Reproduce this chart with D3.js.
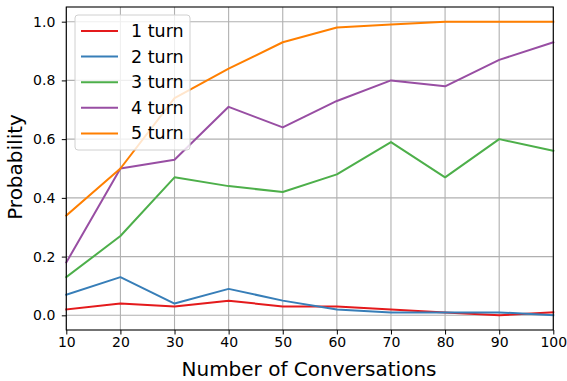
<!DOCTYPE html>
<html><head><meta charset="utf-8">
<script src="https://cdn.jsdelivr.net/npm/d3@7/dist/d3.min.js"></script>
<style>body{margin:0;background:#fff}svg{display:block;font-family:"DejaVu Sans",sans-serif}</style>
</head><body><svg id="c" width="567" height="381"></svg>
<script>
const xValues = [10,20,30,40,50,60,70,80,90,100];
const seriesNames = ["1 turn","2 turn","3 turn","4 turn","5 turn"];
const turn1 = [0.02,0.04,0.03,0.05,0.03,0.03,0.02,0.01,0.00,0.01];
const turn2 = [0.07,0.13,0.04,0.09,0.05,0.02,0.01,0.01,0.01,0.00];
const turn3 = [0.13,0.27,0.47,0.44,0.42,0.48,0.59,0.47,0.60,0.56];
const turn4 = [0.18,0.50,0.53,0.71,0.64,0.73,0.80,0.78,0.87,0.93];
const turn5 = [0.34,0.50,0.74,0.84,0.93,0.98,0.99,1.00,1.00,1.00];
const colors = ["#e41a1c","#377eb8","#4daf4a","#984ea3","#ff7f00"];
const xTicks = [10,20,30,40,50,60,70,80,90,100];
const yTicks = [0,0.2,0.4,0.6,0.8,1.0];
const allSeries = [turn1,turn2,turn3,turn4,turn5];

const svg = d3.select("#c");
const L=66.3,R=553.3,T=7,B=330;
const x = d3.scaleLinear().domain([10,100]).range([L,R]);
const y = d3.scaleLinear().domain([-0.05,1.05]).range([B,T]);

// grid
const g = svg.append("g");
g.selectAll(".gx").data(xTicks).join("line")
  .attr("x1",d=>x(d)).attr("x2",d=>x(d)).attr("y1",T).attr("y2",B)
  .attr("stroke","#b0b0b0").attr("stroke-width",1.1);
g.selectAll(".gy").data(yTicks).join("line")
  .attr("x1",L).attr("x2",R).attr("y1",d=>y(d)).attr("y2",d=>y(d))
  .attr("stroke","#b0b0b0").attr("stroke-width",1.1);

// lines
const line = d3.line().x((d,i)=>x(xValues[i])).y(d=>y(d));
const plot = svg.append("g");
allSeries.forEach((s,i)=>{
  plot.append("path").datum(s).attr("d",line).attr("fill","none")
    .attr("stroke",colors[i]).attr("stroke-width",2).attr("stroke-linejoin","round").attr("stroke-linecap","square");
});

// axes
const xa = svg.append("g").attr("transform",`translate(0,${B})`)
  .call(d3.axisBottom(x).tickValues(xTicks).tickSize(4.5).tickPadding(3).tickFormat(d3.format("d")));
const ya = svg.append("g").attr("transform",`translate(${L},0)`)
  .call(d3.axisLeft(y).tickValues(yTicks).tickSize(4.5).tickPadding(6.5).tickFormat(d3.format(".1f")));
[xa,ya].forEach(a=>{
  a.select(".domain").remove();
  a.selectAll("text").attr("font-size",14).attr("fill","#000").attr("font-family","DejaVu Sans");
  a.selectAll("line").attr("stroke","#000").attr("stroke-width",1);
});
svg.append("rect").attr("x",L).attr("y",T).attr("width",R-L).attr("height",B-T)
  .attr("fill","none").attr("stroke","#000").attr("stroke-width",1.1);

// labels
svg.append("text").attr("x",309).attr("y",375.5).attr("text-anchor","middle")
  .attr("font-size",20).text("Number of Conversations");
svg.append("text").attr("transform",`translate(22,167) rotate(-90)`).attr("text-anchor","middle")
  .attr("font-size",20).text("Probability");

// legend
const lg = svg.append("g");
lg.append("rect").attr("x",75).attr("y",15).attr("width",115).attr("height",135).attr("rx",3)
  .attr("fill","#fff").attr("fill-opacity",0.8).attr("stroke","#d0d0d0").attr("stroke-width",1);
seriesNames.forEach((n,i)=>{
  const yy = 31 + i*25.6;
  lg.append("line").attr("x1",81).attr("x2",118).attr("y1",yy).attr("y2",yy)
    .attr("stroke",colors[i]).attr("stroke-width",2);
  lg.append("text").attr("x",131).attr("y",yy+6).attr("font-size",17.5).text(n);
});
</script></body></html>
